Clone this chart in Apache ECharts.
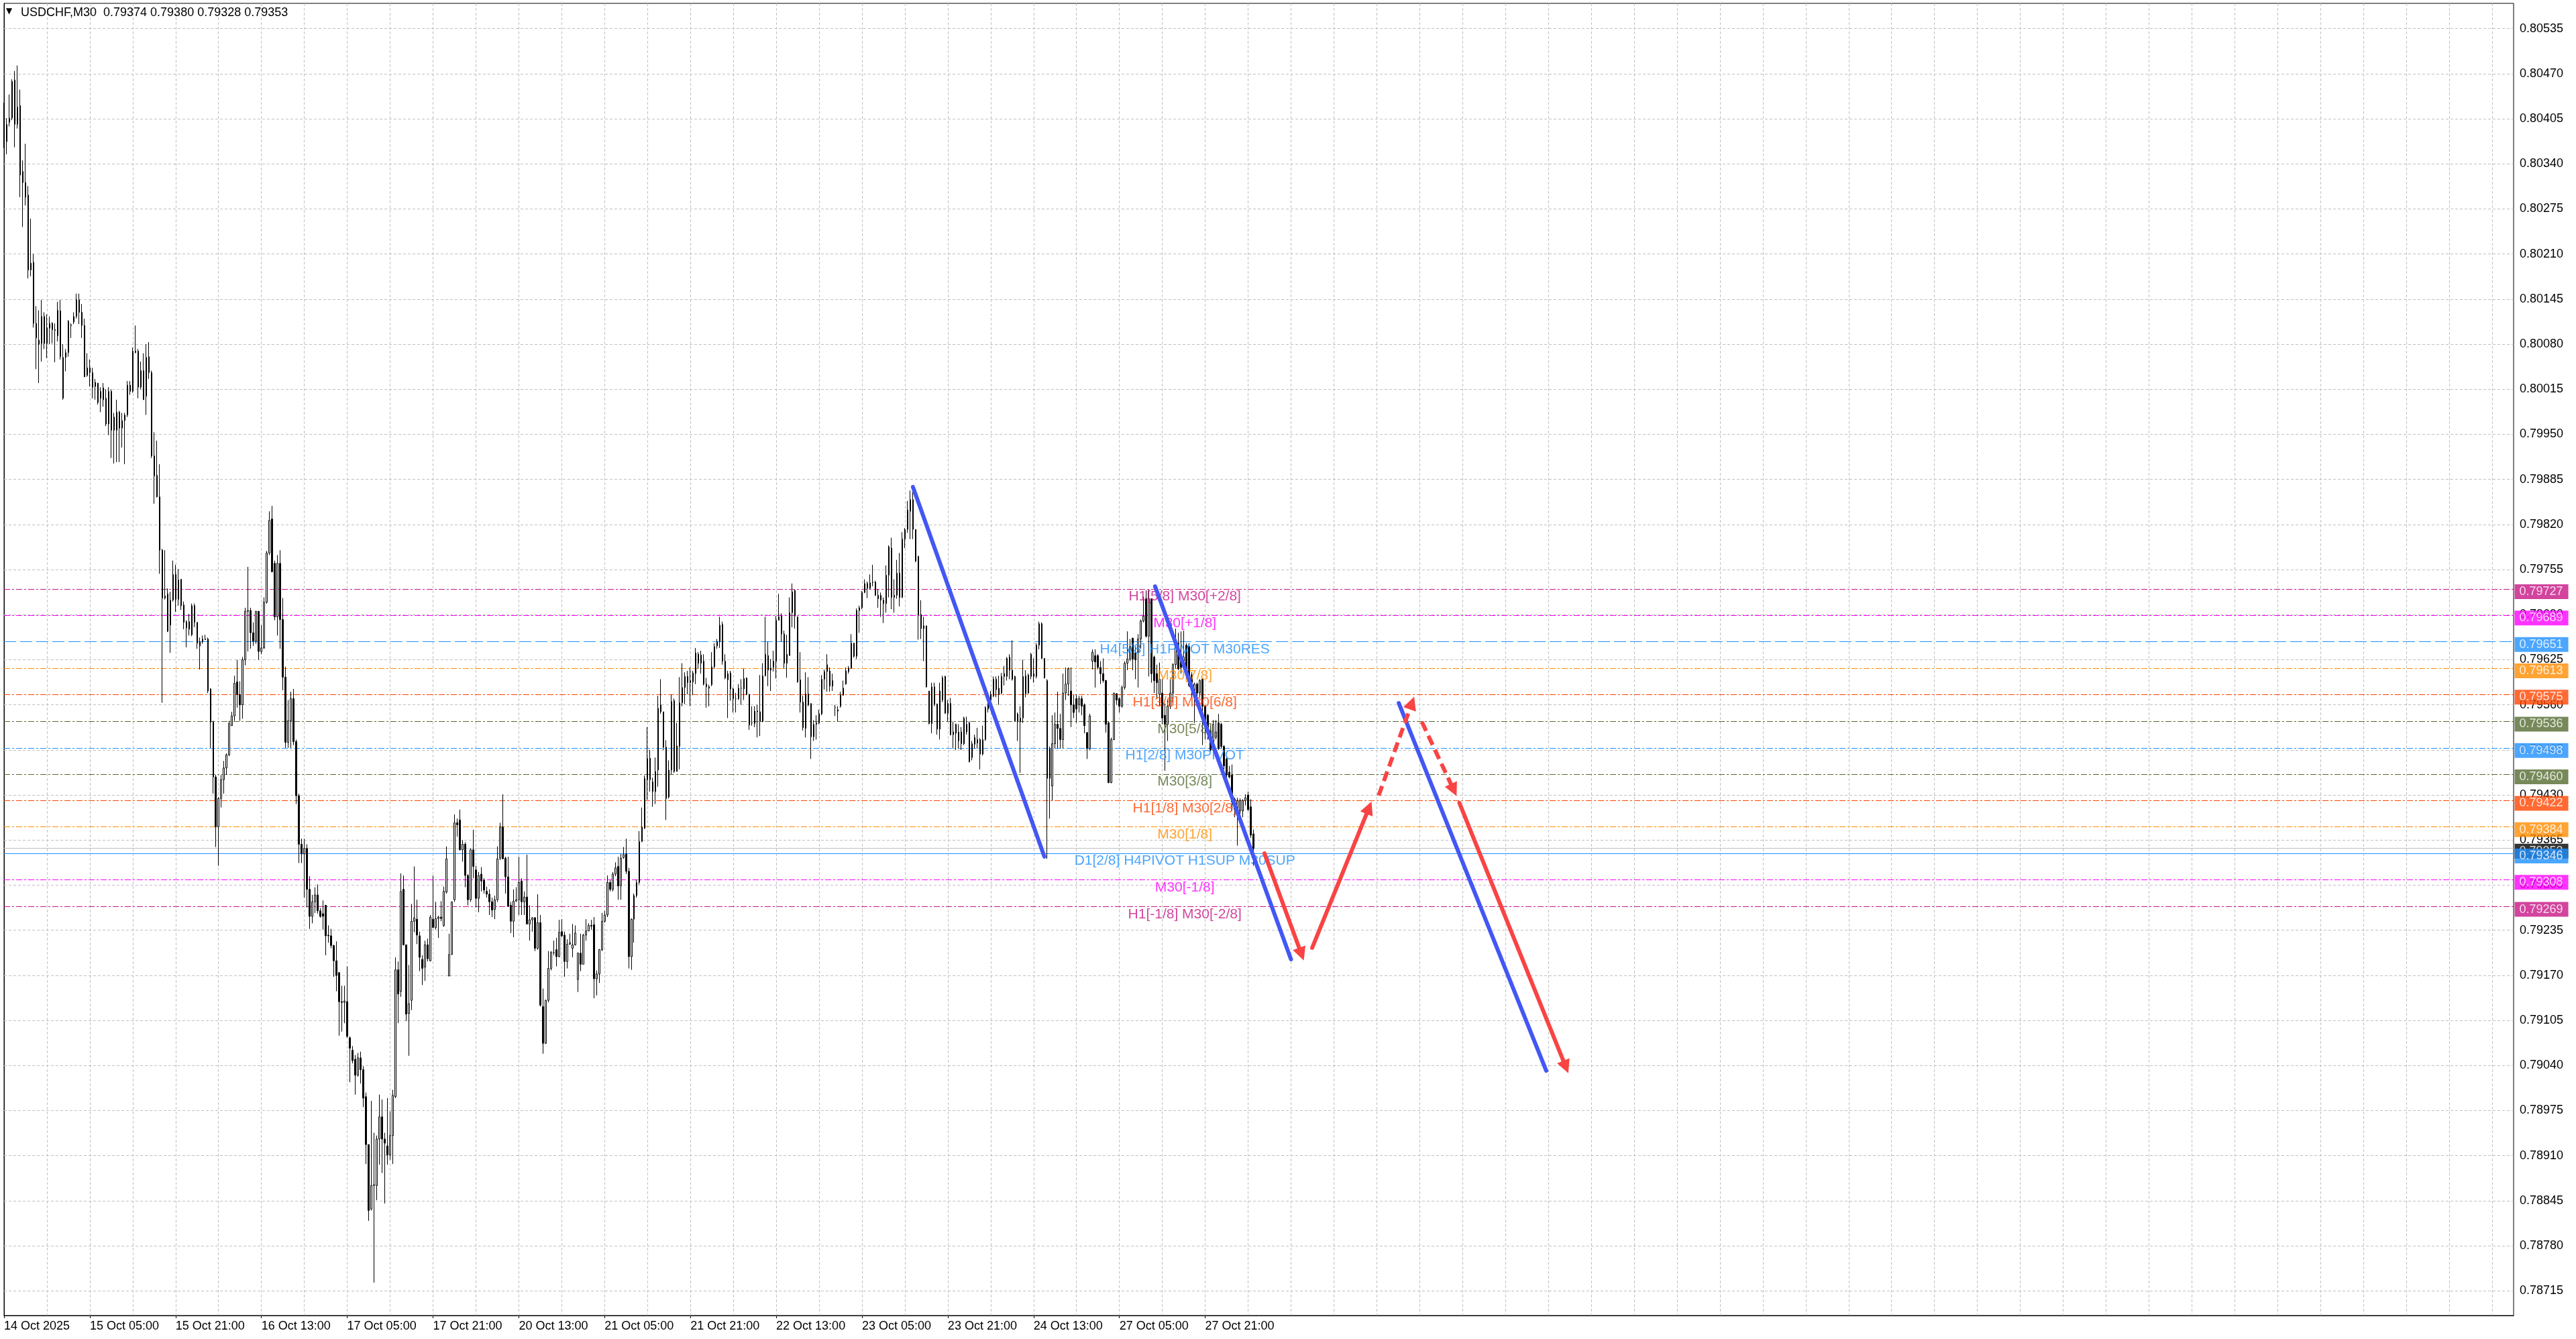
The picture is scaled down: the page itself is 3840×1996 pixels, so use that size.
<!DOCTYPE html>
<html><head><meta charset="utf-8">
<script src="https://cdn.jsdelivr.net/npm/echarts@6/dist/echarts.min.js"></script>
<style>html,body{margin:0;padding:0;background:#fff}#c{width:3840px;height:1996px}</style>
</head><body><div id="c"></div>
<script>
// ---------- data ----------
const symbolName = 'USDCHF,M30';
const headerOHLC = ['0.79374', '0.79380', '0.79328', '0.79353'];
const xLabels = ['14 Oct 2025','15 Oct 05:00','15 Oct 21:00','16 Oct 13:00','17 Oct 05:00','17 Oct 21:00','20 Oct 13:00','21 Oct 05:00','21 Oct 21:00','22 Oct 13:00','23 Oct 05:00','23 Oct 21:00','24 Oct 13:00','27 Oct 05:00','27 Oct 21:00'];
const yTicks = [0.78715,0.78780,0.78845,0.78910,0.78975,0.79040,0.79105,0.79170,0.79235,0.79300,0.79365,0.79430,0.79495,0.79560,0.79625,0.79690,0.79755,0.79820,0.79885,0.79950,0.80015,0.80080,0.80145,0.80210,0.80275,0.80340,0.80405,0.80470,0.80535];

// candle prices in units of 0.00001
const openPts = [
80419,80372,80400,80406,80461,80397,80424,80329,80313,80295,
80187,80198,80110,80086,80081,80120,80081,80103,80110,80101,
80092,80128,80002,80061,80068,80107,80112,80120,80144,80126,
80107,80035,80046,80039,80019,80024,80012,80017,80002,79965,
80012,79975,79956,79982,79959,79970,79978,80021,80012,80070,
80070,80018,80042,80005,80062,80039,79919,79891,79860,79783,
79714,79720,79675,79711,79748,79712,79741,79704,79671,79680,
79661,79703,79679,79645,79651,79655,79655,79583,79535,79456,
79384,79425,79452,79469,79488,79530,79544,79593,79575,79560,
79625,79695,79696,79664,79652,79695,79637,79642,79708,79779,
79828,79764,79687,79764,79683,79600,79506,79537,79569,79507,
79429,79359,79345,79353,79294,79255,79276,79286,79263,79259,
79271,79228,79227,79213,79191,79174,79132,79131,79132,79080,
79062,79049,79026,79051,79034,78995,78926,78833,78867,78867,
78934,78966,78934,78924,78911,78939,78995,79178,79147,79294,
79214,79115,79134,79248,79251,79227,79193,79182,79214,79191,
79251,79239,79252,79254,79242,79290,79169,79200,79279,79390,
79394,79351,79359,79314,79279,79351,79322,79281,79316,79307,
79291,79287,79276,79265,79279,79339,79384,79339,79312,79271,
79248,79277,79279,79306,79276,79283,79244,79250,79253,79209,
79246,79125,79072,79134,79180,79203,79207,79197,79233,79228,
79190,79215,79209,79214,79164,79202,79186,79228,79234,79242,
79243,79165,79172,79207,79248,79257,79304,79294,79316,79327,
79299,79340,79345,79320,79197,79251,79285,79304,79363,79382,
79452,79483,79449,79435,79466,79560,79550,79499,79427,79466,
79566,79464,79500,79563,79585,79601,79592,79593,79605,79633,
79620,79623,79590,79586,79589,79615,79645,79651,79676,79623,
79596,79606,79583,79569,79569,79584,79583,79599,79575,79534,
79533,79551,79550,79536,79602,79631,79610,79614,79623,79682,
79688,79662,79620,79631,79693,79725,79687,79596,79564,79526,
79576,79562,79514,79532,79534,79547,79597,79608,79609,79587,
79556,79553,79558,79574,79590,79608,79613,79649,79630,79696,
79700,79722,79735,79728,79736,79737,79718,79718,79711,79706,
79747,79786,79715,79718,79750,79715,79799,79813,79839,79856,
79813,79774,79690,79670,79674,79580,79533,79586,79561,79525,
79567,79601,79548,79562,79517,79519,79521,79521,79504,79532,
79534,79484,79503,79510,79510,79489,79510,79554,79575,79573,
79597,79575,79577,79605,79601,79629,79610,79601,79547,79536,
79541,79576,79577,79601,79605,79601,79646,79677,79627,79595,
79454,79443,79504,79532,79526,79510,79577,79590,79580,79560,
79569,79560,79569,79560,79520,79497,79623,79631,79631,79614,
79605,79595,79534,79448,79510,79576,79569,79558,79585,79620,
79626,79656,79635,79636,79655,79681,79713,79659,79713,79629,
79605,79575,79577,79545,79532,79558,79577,79618,79649,79631,
79614,79646,79644,79603,79575,79590,79577,79597,79558,79545,
79523,79495,79513,79534,79532,79500,79482,79463,79459,79424,
79407,79407,79407,79422,79430,79413,79374];
const closePts = [
80366,80397,80406,80459,80397,80422,80324,80313,80292,80187,
80197,80110,80089,80080,80120,80081,80104,80110,80101,80100,
80129,80062,80061,80068,80113,80108,80120,80144,80126,80107,
80033,80046,80039,80018,80025,79996,80002,80000,79965,80012,
79956,79956,79982,79959,79970,79978,80021,80012,80070,80068,
80018,80042,80000,80061,80039,79919,79890,79860,79783,79714,
79717,79666,79711,79748,79712,79740,79703,79679,79680,79669,
79703,79679,79649,79651,79655,79654,79580,79535,79456,79384,
79425,79452,79469,79488,79533,79544,79591,79575,79560,79625,
79695,79696,79664,79652,79695,79637,79642,79708,79779,79826,
79752,79687,79764,79683,79600,79506,79537,79569,79507,79429,
79359,79345,79353,79294,79255,79276,79286,79263,79255,79255,
79227,79227,79213,79191,79170,79132,79131,79133,79082,79065,
79047,79026,79051,79034,78993,78926,78831,78867,78868,78934,
78966,78934,78928,78911,78939,78997,79178,79143,79291,79214,
79114,79129,79248,79253,79228,79196,79180,79214,79194,79254,
79239,79252,79254,79252,79291,79338,79200,79276,79390,79387,
79351,79359,79314,79279,79351,79327,79281,79314,79306,79293,
79287,79276,79264,79279,79338,79384,79338,79312,79270,79248,
79277,79279,79304,79276,79283,79244,79250,79253,79209,79246,
79127,79072,79134,79180,79203,79203,79197,79232,79227,79190,
79215,79217,79214,79231,79202,79186,79228,79234,79242,79241,
79165,79172,79207,79248,79257,79304,79294,79316,79325,79299,
79339,79344,79320,79197,79251,79285,79304,79363,79384,79454,
79483,79452,79435,79464,79555,79550,79499,79425,79466,79565,
79464,79501,79563,79585,79601,79592,79595,79606,79635,79620,
79632,79590,79586,79584,79615,79644,79651,79675,79623,79599,
79605,79583,79569,79569,79584,79584,79598,79575,79531,79534,
79551,79550,79536,79602,79633,79610,79613,79623,79682,79687,
79662,79620,79633,79693,79723,79688,79593,79564,79527,79576,
79560,79514,79532,79534,79547,79597,79608,79618,79587,79595,
79556,79551,79574,79584,79609,79613,79649,79630,79696,79700,
79722,79735,79728,79736,79737,79718,79713,79711,79706,79747,
79788,79715,79718,79750,79715,79799,79813,79841,79856,79813,
79767,79690,79670,79674,79586,79533,79586,79561,79525,79580,
79599,79548,79562,79517,79521,79532,79508,79504,79541,79521,
79478,79504,79513,79505,79489,79510,79556,79567,79567,79597,
79582,79584,79601,79601,79627,79610,79597,79537,79536,79541,
79601,79602,79603,79633,79601,79646,79677,79627,79599,79454,
79497,79504,79532,79526,79510,79577,79590,79612,79560,79549,
79554,79569,79558,79530,79497,79544,79636,79622,79614,79605,
79595,79532,79448,79510,79577,79567,79558,79585,79620,79626,
79644,79626,79625,79655,79681,79688,79659,79713,79605,79595,
79592,79597,79541,79532,79558,79577,79618,79649,79612,79614,
79629,79605,79588,79592,79590,79577,79595,79558,79536,79523,
79495,79532,79521,79497,79500,79472,79459,79456,79420,79409,
79422,79422,79422,79426,79409,79372,79353];
const lowPts = [
80363,80354,80394,80403,80364,80391,80292,80249,80280,80175,
80178,80104,80044,80024,80055,80073,80060,80080,80081,80054,
80084,80058,80000,80041,80062,80089,80109,80117,80109,80089,
80033,80033,80019,80002,80000,79993,79982,79990,79962,79949,
79916,79908,79910,79910,79931,79907,79975,80007,80010,80067,
80002,80015,80000,79978,80030,79916,79850,79859,79749,79563,
79712,79665,79635,79709,79694,79703,79697,79669,79643,79660,
79659,79672,79641,79611,79648,79654,79577,79498,79432,79355,
79328,79412,79432,79459,79486,79530,79537,79556,79537,79540,
79617,79637,79641,79645,79648,79625,79633,79641,79706,79776,
79751,79682,79660,79641,79581,79498,79498,79498,79502,79417,
79332,79332,79282,79268,79237,79245,79260,79259,79253,79236,
79199,79217,79209,79168,79147,79083,79089,79101,79080,79016,
79043,78998,79024,79014,78980,78898,78816,78831,78727,78846,
78897,78885,78841,78897,78904,78898,78993,79101,79139,79213,
79104,79054,79120,79232,79215,79176,79156,79162,79190,79190,
79238,79236,79224,79248,79240,79288,79169,79200,79276,79370,
79350,79334,79297,79271,79276,79310,79268,79261,79291,79288,
79282,79257,79254,79251,79276,79336,79338,79288,79269,79231,
79225,79276,79257,79257,79257,79244,79220,79233,79205,79207,
79125,79057,79071,79131,79177,79199,79183,79196,79225,79168,
79180,79214,79196,79213,79146,79176,79186,79220,79234,79236,
79137,79141,79159,79205,79246,79254,79291,79291,79313,79279,
79279,79338,79316,79180,79178,79217,79282,79301,79362,79381,
79423,79435,79413,79417,79442,79547,79495,79394,79425,79460,
79462,79464,79467,79558,79561,79575,79558,79574,79590,79612,
79605,79588,79556,79558,79587,79612,79641,79642,79618,79597,
79541,79566,79549,79549,79567,79560,79567,79574,79524,79530,
79528,79513,79515,79535,79601,79587,79580,79608,79598,79682,
79651,79612,79599,79631,79672,79670,79592,79549,79523,79513,
79558,79482,79508,79510,79532,79545,79582,79579,79579,79580,
79544,79536,79556,79573,79589,79605,79612,79628,79626,79664,
79698,79721,79714,79726,79731,79717,79700,79687,79678,79693,
79715,79698,79693,79713,79702,79714,79786,79808,79799,79799,
79766,79654,79655,79623,79585,79532,79519,79558,79517,79510,
79564,79547,79536,79516,79497,79495,79497,79495,79502,79517,
79477,79480,79497,79497,79467,79487,79508,79549,79560,79571,
79571,79560,79575,79588,79595,79597,79595,79536,79508,79462,
79534,79571,79576,79597,79592,79598,79640,79626,79598,79338,
79396,79422,79497,79497,79497,79497,79567,79573,79528,79541,
79534,79549,79545,79519,79482,79495,79611,79585,79611,79590,
79592,79520,79447,79447,79509,79560,79549,79556,79582,79610,
79623,79610,79597,79585,79641,79679,79657,79601,79592,79577,
79569,79558,79532,79465,79508,79554,79564,79612,79610,79605,
79612,79597,79586,79571,79534,79571,79571,79502,79510,79510,
79493,79495,79510,79495,79497,79467,79448,79454,79407,79398,
79357,79389,79398,79415,79407,79368,79328];
const highPts = [
80428,80406,80440,80462,80474,80482,80447,80345,80369,80308,
80261,80210,80135,80129,80144,80126,80123,80120,80112,80110,
80141,80144,80080,80073,80115,80110,80126,80153,80153,80138,
80117,80067,80058,80046,80030,80024,80018,80024,80015,80018,
80015,79981,80000,79984,79981,79981,80027,80027,80075,80107,
80073,80055,80067,80080,80083,80042,79953,79941,79907,79785,
79783,79728,79723,79768,79762,79756,79741,79709,79682,79691,
79706,79706,79679,79657,79660,79661,79657,79584,79537,79459,
79427,79459,79479,79490,79537,79550,79602,79625,79594,79629,
79700,79759,79700,79679,79695,79695,79675,79715,79782,79839,
79847,79768,79776,79783,79714,79615,79567,79579,79583,79510,
79432,79367,79367,79359,79313,79286,79297,79301,79267,79278,
79271,79242,79237,79214,79219,79174,79155,79155,79183,79082,
79068,79055,79058,79060,79039,79001,78926,78989,78943,78939,
78998,78991,78943,78993,78974,79005,79196,79190,79317,79314,
79214,79185,79273,79327,79279,79233,79199,79220,79223,79257,
79314,79276,79256,79277,79298,79356,79230,79276,79402,79396,
79409,79365,79362,79316,79353,79380,79328,79319,79326,79310,
79298,79294,79282,79285,79356,79390,79431,79341,79341,79276,
79294,79297,79341,79310,79291,79344,79271,79254,79254,79287,
79257,79151,79135,79205,79205,79220,79224,79250,79251,79233,
79222,79230,79244,79242,79203,79230,79230,79251,79245,79250,
79254,79177,79208,79260,79263,79314,79307,79319,79333,79341,
79345,79355,79367,79325,79252,79288,79308,79378,79412,79458,
79528,79495,79455,79484,79573,79597,79550,79509,79480,79575,
79569,79534,79600,79620,79607,79609,79614,79609,79642,79636,
79638,79633,79599,79589,79636,79649,79655,79687,79680,79633,
79609,79609,79585,79577,79590,79597,79612,79599,79576,79558,
79558,79560,79603,79620,79687,79651,79626,79638,79688,79720,
79692,79667,79661,79715,79735,79726,79687,79636,79573,79607,
79600,79562,79538,79545,79553,79603,79611,79633,79614,79605,
79560,79558,79579,79595,79614,79616,79662,79649,79699,79703,
79724,79741,79738,79748,79762,79739,79727,79722,79715,79761,
79790,79801,79741,79769,79779,79809,79815,79854,79869,79867,
79813,79775,79711,79687,79674,79580,79592,79592,79562,79592,
79602,79602,79567,79570,79536,79533,79532,79528,79543,79543,
79536,79508,79517,79527,79512,79530,79558,79575,79580,79601,
79601,79602,79606,79616,79629,79633,79653,79602,79549,79558,
79625,79610,79605,79635,79627,79649,79680,79679,79627,79597,
79500,79545,79549,79579,79547,79605,79614,79614,79614,79575,
79575,79573,79573,79562,79521,79547,79640,79640,79633,79623,
79627,79596,79536,79513,79577,79577,79571,79588,79623,79666,
79655,79657,79644,79662,79683,79716,79725,79726,79713,79631,
79618,79621,79597,79562,79567,79597,79620,79670,79664,79666,
79667,79649,79649,79607,79592,79592,79597,79599,79560,79547,
79530,79538,79538,79547,79534,79502,79484,79472,79474,79426,
79426,79425,79424,79431,79435,79424,79380];

// Murrey-math / pivot levels
const levelPrices = [0.79727,0.79689,0.79651,0.79613,0.79575,0.79536,0.79498,0.79460,0.79422,0.79384,0.79346,0.79308,0.79269];
const levelNames = ['H1[5/8] M30[+2/8]','M30[+1/8]','H4[5/8] H1PIVOT M30RES','M30[7/8]','H1[3/8] M30[6/8]','M30[5/8]','H1[2/8] M30PIVOT','M30[3/8]','H1[1/8] M30[2/8]','M30[1/8]','D1[2/8] H4PIVOT H1SUP M30SUP','M30[-1/8]','H1[-1/8] M30[-2/8]'];
const bidPrice = 0.79353;

// hand-drawn trend lines / forecast arrows: [barIndex, price]
const blueSegments = [[[339.0,0.798742],[388.0,0.793413]],[[429.3,0.797309],[480.0,0.791931]],[[520.2,0.795626],[575.2,0.790325]]];
const redSolidArrows = [[[470.1,0.793459],[483.9,0.792006]],[[487.9,0.792096],[509.1,0.794117]],[[542.8,0.794187],[582.5,0.790379]]];
const redDashedArrows = [[[512.7,0.794293],[525.1,0.795626]],[[528.8,0.795356],[540.7,0.794372]]];

// ---------- styles ----------
const levelColors = ['#c71585','#ff00ff','#1e90ff','#ff8c00','#ff4500','#556b2f','#1e90ff','#556b2f','#ff4500','#ff8c00','#1e90ff','#ff00ff','#c71585'];
const levelKinds = ['dashdot','dashdot','dash','dashdot','dashdot','dashdot','dashdot','dashdot','dashdot','dashdot','solid','dashdot','dashdot'];
const DASH = {dashdot:[9,3,3,3], dash:[18,6], solid:'solid'};
const FONT = '"Liberation Sans", Arial, sans-serif';
const N = 937;               // visible bar slots incl. future
const LABEL_X = 440.4;       // bar slot where level captions are centred
const Y_MIN = 0.786795, Y_MAX = 0.805715;

// ---------- build ----------
const cats = Array.from({length: N}, (_, i) => String(i));
const candles = openPts.map((o, i) => [o / 1e5, closePts[i] / 1e5, lowPts[i] / 1e5, highPts[i] / 1e5]);

const gridRows = yTicks.map(v => ({coords: [[0, v], [N - 1, v]]}));
const levelRows = [{coords: [[0, bidPrice], [N - 1, bidPrice]], lineStyle: {color: '#c0c0c0', type: 'solid', width: 1}}]
  .concat(levelPrices.map((p, i) => ({coords: [[0, p], [N - 1, p]], lineStyle: {color: levelColors[i], type: DASH[levelKinds[i]], width: 1}})));

const captionData = levelPrices.map((p, i) => ({value: [LABEL_X, p], name: levelNames[i], label: {color: levelColors[i]}}));

const tagList = [];
levelPrices.forEach((p, i) => {
  if (p === 0.79346) tagList.push({value: [N - 1, bidPrice], label: {backgroundColor: '#000000'}});
  tagList.push({value: [N - 1, p], label: {backgroundColor: levelColors[i]}});
});

const chart = echarts.init(document.getElementById('c'), null, {renderer: 'canvas'});
chart.setOption({
  animation: false,
  backgroundColor: '#ffffff',
  title: [
    {text: '▼', left: 9, top: 11, padding: 0, textStyle: {fontSize: 12, color: '#000', fontWeight: 'normal', fontFamily: 'DejaVu Sans'}},
    {text: symbolName + '  ' + headerOHLC.join(' '), left: 31, top: 10, padding: 0, textStyle: {fontSize: 18, color: '#000', fontWeight: 'normal', fontFamily: FONT}}
  ],
  grid: {left: 6, right: 93, top: 5, bottom: 35, show: true, borderColor: '#000', borderWidth: 1, backgroundColor: '#fff', containLabel: false},
  xAxis: [
    {
      type: 'category', data: cats, boundaryGap: false,
      axisLine: {lineStyle: {color: '#000', width: 1}},
      axisTick: {interval: (i) => i % 32 === 0 && i / 32 < xLabels.length, length: 4, lineStyle: {color: '#000'}},
      axisLabel: {interval: (i) => i % 32 === 0 && i / 32 < xLabels.length, align: 'left', margin: 7, fontSize: 18, color: '#000', fontFamily: FONT,
        formatter: (v, i) => (i % 32 === 0 ? (xLabels[i / 32] || '') : '')},
      splitLine: {show: true, interval: 15, lineStyle: {color: '#c0c0c0', type: [4, 3], width: 1}}
    },
    {type: 'value', min: 0, max: N - 1, show: false}
  ],
  yAxis: {
    type: 'value', position: 'right', min: Y_MIN, max: Y_MAX,
    axisLine: {show: true, lineStyle: {color: '#000', width: 1}},
    axisTick: {show: true, length: 4, customValues: yTicks, lineStyle: {color: '#000'}},
    axisLabel: {customValues: yTicks, margin: 9, fontSize: 18, color: '#000', fontFamily: FONT, formatter: (v) => v.toFixed(5)},
    splitLine: {show: false}
  },
  series: [
    {
      type: 'lines', name: 'gridRows', coordinateSystem: 'cartesian2d', xAxisIndex: 1, yAxisIndex: 0, z: 1, silent: true,
      symbol: 'none', lineStyle: {color: '#c0c0c0', type: [4, 3], width: 1, opacity: 1},
      data: gridRows
    },
    {
      type: 'lines', name: 'levels', coordinateSystem: 'cartesian2d', xAxisIndex: 1, yAxisIndex: 0, z: 2, silent: true,
      symbol: 'none', lineStyle: {width: 1, opacity: 1},
      data: levelRows
    },
    {
      type: 'candlestick', name: symbolName, data: candles, z: 3, barWidth: 2, silent: true,
      itemStyle: {color: '#ffffff', color0: '#000000', borderColor: '#000000', borderColor0: '#000000', borderColorDoji: '#000000', borderWidth: 1}
    },
    {
      type: 'scatter', name: 'captions', xAxisIndex: 1, data: captionData, symbolSize: 1, z: 4, silent: true,
      itemStyle: {color: 'rgba(0,0,0,0)'},
      label: {show: true, position: 'bottom', distance: 0, formatter: (p) => p.name, fontSize: 21, lineHeight: 22, fontFamily: FONT}
    },
    {
      type: 'lines', name: 'trend', coordinateSystem: 'cartesian2d', xAxisIndex: 1, yAxisIndex: 0, z: 6, silent: true,
      symbol: 'none', lineStyle: {color: '#4357f4', width: 6, cap: 'round', opacity: 1},
      data: blueSegments.map(s => ({coords: s}))
    },
    {
      type: 'lines', name: 'arrows', coordinateSystem: 'cartesian2d', xAxisIndex: 1, yAxisIndex: 0, z: 6, silent: true,
      symbol: ['none', 'triangle'], symbolSize: 20, lineStyle: {color: '#f94444', width: 6, cap: 'round', opacity: 1},
      data: redSolidArrows.map(s => ({coords: s}))
    },
    {
      type: 'lines', name: 'arrowsDashed', coordinateSystem: 'cartesian2d', xAxisIndex: 1, yAxisIndex: 0, z: 6, silent: true,
      symbol: ['none', 'triangle'], symbolSize: 20, lineStyle: {color: '#f94444', width: 6, type: [15, 8], cap: 'butt', opacity: 1},
      data: redDashedArrows.map(s => ({coords: s}))
    },
    {
      type: 'scatter', name: 'tags', xAxisIndex: 1, data: tagList, symbolSize: 1, z: 7, silent: true, clip: false,
      itemStyle: {color: 'rgba(0,0,0,0)'},
      label: {show: true, position: 'right', distance: 1, offset: [0, 4], formatter: (p) => p.value[1].toFixed(5),
        color: '#ffffff', fontSize: 18, lineHeight: 18, padding: [2, 8, 2, 7], fontFamily: FONT}
    }
  ]
});
</script>
</body></html>
